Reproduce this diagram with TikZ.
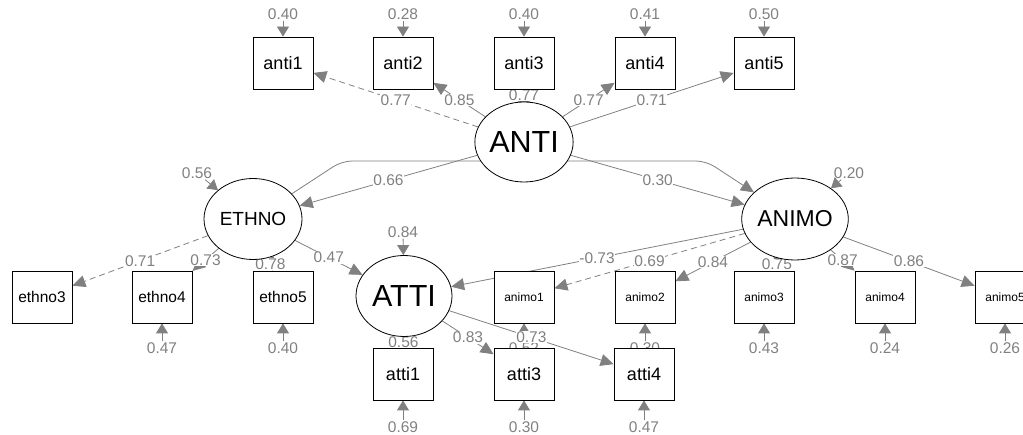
\documentclass[tikz,border=0pt]{standalone}
\usepackage{fontspec}
\setmainfont{Liberation Sans}
\usepackage{xcolor}
\usepackage{tikz}
\usetikzlibrary{arrows.meta, positioning, shapes.geometric, backgrounds}
\definecolor{semgray}{RGB}{128,128,128}

\begin{document}
\begin{tikzpicture}[x=1pt, y=-1pt,
    manifest/.style={rectangle, draw=black, fill=white, line width=0.8pt, minimum width=60pt, minimum height=52pt, inner sep=0pt, font=\fontsize{18}{20}\selectfont},
    small/.style={font=\fontsize{15.5}{17}\selectfont},
    tiny/.style={font=\fontsize{12}{14}\selectfont},
    latent/.style={ellipse, draw=black, fill=white, line width=0.8pt, inner sep=0pt},
    load/.style={draw=semgray, line width=0.8pt, -{Triangle[length=13pt, width=12pt]}},
    fixed/.style={dash pattern=on 6pt off 4pt},
    resid/.style={draw=semgray, line width=0.8pt, -{Triangle[length=10pt, width=12pt]}},
    coef/.style={text=semgray, fill=white, inner sep=0.5pt, font=\fontsize{15.5}{17}\selectfont},
    rlabel/.style={text=semgray, inner sep=1pt, font=\fontsize{15.5}{17}\selectfont}]
    \useasboundingbox (0,0) rectangle (1023,435);

    % latent variables
    \node[latent, minimum width=94pt, minimum height=80pt, font=\fontsize{30.5}{32}\selectfont] (ANTI) at (524,142) {ANTI};
    \node[latent, minimum width=98pt, minimum height=81pt, font=\fontsize{19}{21}\selectfont] (ETHNO) at (253,219) {ETHNO};
    \node[latent, minimum width=96pt, minimum height=81pt, font=\fontsize{30.5}{32}\selectfont] (ATTI) at (404,296) {ATTI};
    \node[latent, minimum width=96pt, minimum height=82pt, font=\fontsize{23}{25}\selectfont] (ANIMO) at (795,219) {ANIMO};

    % indicators
    \node[manifest] (anti1) at (283,63) {anti1};
    \node[manifest] (anti2) at (403,63) {anti2};
    \node[manifest] (anti3) at (524,63) {anti3};
    \node[manifest] (anti4) at (645,63) {anti4};
    \node[manifest] (anti5) at (764,63) {anti5};
    \node[manifest, small] (ethno3) at (42,297) {ethno3};
    \node[manifest, small] (ethno4) at (162,297) {ethno4};
    \node[manifest, small] (ethno5) at (283,297) {ethno5};
    \node[manifest, tiny] (animo1) at (524,297) {animo1};
    \node[manifest, tiny] (animo2) at (645,297) {animo2};
    \node[manifest, tiny] (animo3) at (764,297) {animo3};
    \node[manifest, tiny] (animo4) at (885,297) {animo4};
    \node[manifest, tiny] (animo5) at (1005,297) {animo5};
    \node[manifest] (atti1) at (403,374) {atti1};
    \node[manifest] (atti3) at (524,374) {atti3};
    \node[manifest] (atti4) at (644,374) {atti4};

    \begin{pgfonlayer}{background}
    % residuals
    \foreach \v/\r in {anti1/0.40, anti2/0.28, anti3/0.40, anti4/0.41, anti5/0.50} {
        \node[rlabel, above=16pt of \v] (r\v) {\r};
        \draw[resid] (r\v) -- (\v);
    }
    \foreach \v/\r in {ethno4/0.47, ethno5/0.40, animo1/0.52, animo2/0.30, animo3/0.43, animo4/0.24, animo5/0.26} {
        \node[rlabel, below=18pt of \v] (r\v) {\r};
        \draw[resid] (r\v) -- (\v);
    }
    \foreach \v/\r in {atti1/0.69, atti3/0.30, atti4/0.47} {
        \node[rlabel, below=20pt of \v] (r\v) {\r};
        \draw[resid] (r\v) -- (\v);
    }
    \node[rlabel] (rETHNO) at (197,173) {0.56};
    \node[rlabel] (rATTI) at (403,232) {0.84};
    \node[rlabel] (rANIMO) at (849,173) {0.20};
    \draw[resid] (rETHNO) -- (ETHNO);
    \draw[resid] (rATTI) -- (ATTI);
    \draw[resid] (rANIMO) -- (ANIMO);

    % loadings
    \draw[load, fixed] (ANTI) -- node[coef] {0.77} (anti1);
    \draw[load] (ANTI) -- node[coef] {0.85} (anti2);
    \draw[load] (ANTI) -- node[coef] {0.77} (anti3);
    \draw[load] (ANTI) -- node[coef] {0.77} (anti4);
    \draw[load] (ANTI) -- node[coef] {0.71} (anti5);
    \draw[load, fixed] (ETHNO) -- node[coef] {0.71} (ethno3);
    \draw[load] (ETHNO) -- node[coef] {0.73} (ethno4);
    \draw[load] (ETHNO) -- node[coef] {0.78} (ethno5);
    \draw[load, fixed] (ANIMO) -- node[coef] {0.69} (animo1);
    \draw[load] (ANIMO) -- node[coef] {0.84} (animo2);
    \draw[load] (ANIMO) -- node[coef] {0.75} (animo3);
    \draw[load] (ANIMO) -- node[coef] {0.87} (animo4);
    \draw[load] (ANIMO) -- node[coef] {0.86} (animo5);
    \draw[load, fixed] (ATTI) -- node[coef] {0.56} (atti1);
    \draw[load] (ATTI) -- node[coef] {0.83} (atti3);
    \draw[load] (ATTI) -- node[coef] {0.73} (atti4);

    % structural paths
    \draw[load, rounded corners=10pt] (ETHNO.33) -- (342,161) -- (706,161) -- (ANIMO.147);
    \draw[load] (ANTI) -- node[coef] {0.66} (ETHNO);
    \draw[load] (ANTI) -- node[coef] {0.30} (ANIMO);
    \draw[load] (ETHNO) -- node[coef] {0.47} (ATTI);
    \draw[load] (ANIMO) -- node[coef] {-0.73} (ATTI);
    \end{pgfonlayer}
\end{tikzpicture}
\end{document}
